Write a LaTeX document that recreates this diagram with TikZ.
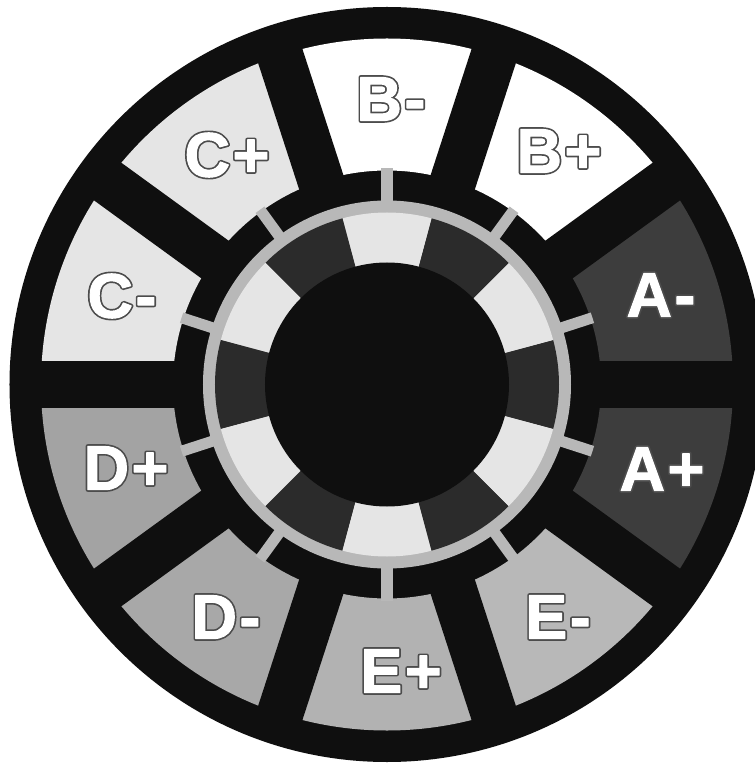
\documentclass[tikz,border=0pt]{standalone}
\usepackage{fontspec}
\setmainfont{Liberation Sans}
\newfontfamily\padfont[LetterSpace=4]{LiberationSans-Bold.ttf}
\definecolor{coreblack}{gray}{0.06}
\definecolor{ringgray}{gray}{0.72}
\definecolor{segdark}{gray}{0.17}
\definecolor{seglight}{gray}{0.90}
\definecolor{padA}{gray}{0.24}
\definecolor{padB}{gray}{1.0}
\definecolor{padC}{gray}{0.90}
\definecolor{padDp}{gray}{0.64}
\definecolor{padDm}{gray}{0.66}
\definecolor{padEp}{gray}{0.70}
\definecolor{padEm}{gray}{0.72}
\newcommand{\outlined}[1]{\rlap{\special{pdf:code q 2 Tr 4.4 w 1 j 0.3 G}#1\special{pdf:code Q}}\special{pdf:code q 2 Tr 1 w 1 j 1 G}#1\special{pdf:code Q}}
\tikzset{
  padlabel/.style={inner sep=0pt,outer sep=0pt,text=white,font=\padfont\fontsize{63bp}{63bp}\selectfont},
}
\begin{document}
\begin{tikzpicture}
\path[use as bounding box] (-387bp,-379.5bp) rectangle (368bp,384.5bp);
\clip (-387bp,-379.5bp) rectangle (368bp,384.5bp);
\fill[white] (-387bp,-379.5bp) rectangle (368bp,384.5bp);
% black body
\fill[coreblack] (0,0) circle[radius=377.5bp];
% stator pads
\foreach \a/\c in {18/padA,54/padB,90/padB,126/padC,162/padC,198/padDp,234/padDm,270/padEp,306/padEm,342/padA}{
  \fill[\c] (\a-18:214bp) arc[start angle=\a-18,end angle=\a+18,radius=214bp]
    -- (\a+18:346bp) arc[start angle=\a+18,end angle=\a-18,radius=346bp] -- cycle;
}
% black bars between the pads
\foreach \a in {0,36,...,324}{
  \fill[coreblack,rotate=\a] (200bp,-23.25bp) rectangle (360bp,23.25bp);
}
% spokes
\foreach \a in {18,54,...,342}{
  \fill[ringgray,rotate=\a] (176bp,-5.5bp) rectangle (216bp,5.5bp);
}
% gray ring
\fill[ringgray] (0,0) circle[radius=184bp];
% rotor segments
\foreach \a in {0,60,...,300}{
  \fill[segdark] (\a-15:120bp) arc[start angle=\a-15,end angle=\a+15,radius=120bp]
    -- (\a+15:172bp) arc[start angle=\a+15,end angle=\a-15,radius=172bp] -- cycle;
  \fill[seglight] (\a+15:120bp) arc[start angle=\a+15,end angle=\a+45,radius=120bp]
    -- (\a+45:172bp) arc[start angle=\a+45,end angle=\a+15,radius=172bp] -- cycle;
}
% hub
\fill[coreblack] (0,0) circle[radius=122bp];
% labels
\node[padlabel] (lAm) at (274bp,89.5bp) {\outlined{A-}};
\node[padlabel] (lAp) at (275bp,-84.5bp) {\outlined{A+}};
\node[padlabel] (lBp) at (172bp,233.5bp) {\outlined{B+}};
\node[padlabel] (lBm) at (4bp,285.5bp) {\outlined{B-}};
\node[padlabel] (lCp) at (-160bp,229.5bp) {\outlined{C+}};
\node[padlabel] (lCm) at (-265bp,88.5bp) {\outlined{C-}};
\node[padlabel] (lDp) at (-261bp,-83.5bp) {\outlined{D+}};
\node[padlabel] (lDm) at (-161bp,-232.5bp) {\outlined{D-}};
\node[padlabel] (lEp) at (14bp,-286.5bp) {\outlined{E+}};
\node[padlabel] (lEm) at (171bp,-232.5bp) {\outlined{E-}};
\end{tikzpicture}
\end{document}
